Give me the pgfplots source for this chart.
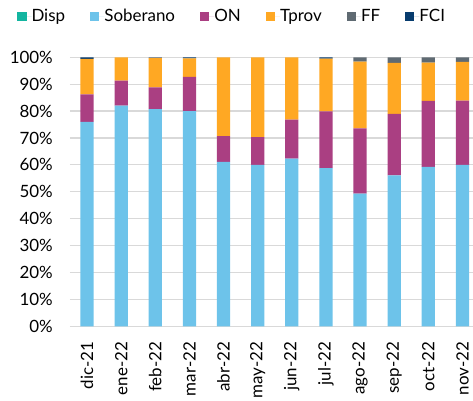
\documentclass[border=0pt]{standalone}
\usepackage{pgfplots}
\pgfplotsset{compat=1.18}
\usepackage{pgfplotstable}
\usepackage{fontspec}
\setmainfont{Lato}
\definecolor{cDisp}{HTML}{13B5A0}
\definecolor{cSob}{HTML}{6DC3EA}
\definecolor{cON}{HTML}{AA3F82}
\definecolor{cTprov}{HTML}{FFA823}
\definecolor{cFF}{HTML}{5F6A72}
\definecolor{cFCI}{HTML}{073C6E}
\definecolor{cGrid}{HTML}{D9D9D9}
\newcommand\f{\fontsize{17}{20.4}\selectfont}
\pgfplotstableread{
x Disp Sob ON Tprov FF FCI
0 0 76.0 10.2 13.2 0 0.6
1 0 82.0 9.3 8.7 0 0
2 0 80.7 8.1 10.9 0.3 0
3 0 80.0 12.7 6.9 0 0.4
4 0 61.1 9.6 29.3 0 0
5 0 60.0 10.3 29.7 0 0
6 0 62.3 14.5 23.2 0 0
7 0 58.8 21.1 19.6 0 0.5
8 0 49.3 24.3 24.8 1.6 0
9 0 56.1 22.9 18.9 2.1 0
10 0 59.3 24.5 14.2 2.0 0
11 0 60.0 23.9 14.4 1.7 0
}\data
\begin{document}
\begin{tikzpicture}
\begin{axis}[
  scale only axis, width=403bp, height=269bp,
  ybar stacked, bar width=13.3bp,
  xmin=-0.5, xmax=11.31, ymin=0, ymax=100,
  axis line style={draw=none},
  major tick length=0pt,
  ymajorgrids, grid style={cGrid, line width=1.2bp},
  ytick={0,10,...,100},
  yticklabels={0\%,10\%,20\%,30\%,40\%,50\%,60\%,70\%,80\%,90\%,100\%},
  xtick={0,...,11},
  xticklabels={dic-21,ene-22,feb-22,mar-22,abr-22,may-22,jun-22,jul-22,ago-22,sep-22,oct-22,nov-22},
  xticklabel style={rotate=90, anchor=east, inner sep=0pt, font=\f},
  yticklabel style={anchor=east, inner sep=0pt, font=\f},
  xticklabel shift=15.4bp, yticklabel shift=17bp,
  legend columns=6,
  legend style={draw=none, fill=none, font=\f, at={(axis description cs:-0.1315,1.152)}, anchor=west,
    inner sep=0pt, column sep=0pt, nodes={inner sep=0pt},
    /tikz/every even column/.append style={column sep=25bp}},
  legend image code/.code={\fill[#1] (0bp,-4.65bp) rectangle (9.3bp,4.65bp); \path (0bp,0bp) -- (14.3bp,0bp);},
  every axis plot/.append style={draw=none},
]
\addplot[fill=cDisp] table[x=x,y=Disp]{\data};
\addplot[fill=cSob] table[x=x,y=Sob]{\data};
\addplot[fill=cON] table[x=x,y=ON]{\data};
\addplot[fill=cTprov] table[x=x,y=Tprov]{\data};
\addplot[fill=cFF] table[x=x,y=FF]{\data};
\addplot[fill=cFCI] table[x=x,y=FCI]{\data};
\legend{Disp,Soberano,ON,Tprov,FF,FCI}
\end{axis}
\pgfresetboundingbox
\path[use as bounding box] (-70bp,-74.7bp) rectangle (403bp,326.3bp);
\end{tikzpicture}
\end{document}
